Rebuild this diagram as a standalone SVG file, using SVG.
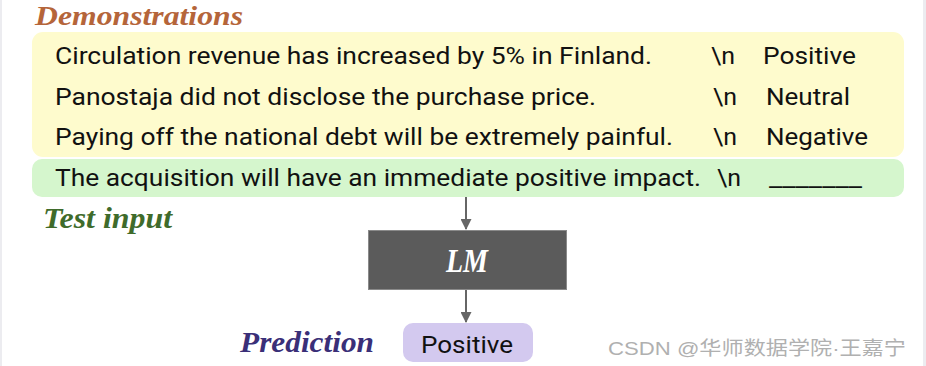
<svg xmlns="http://www.w3.org/2000/svg" width="926" height="366" viewBox="0 0 926 366">
<style>
.t{font-family:Roboto,"Liberation Sans",sans-serif;font-size:23.5px;fill:#111}
.h{font-family:"Liberation Serif","DejaVu Serif",serif;font-weight:bold;font-style:italic}
.wm{font-family:"Liberation Sans","Noto Sans CJK SC",sans-serif;font-size:19px;fill:#b0b0b0}
.conn{stroke:#666;stroke-width:2;fill:none}
</style>
<defs>
<marker id="ah" viewBox="0 0 10 10" refX="9" refY="5" markerWidth="6" markerHeight="5.5" orient="auto" markerUnits="strokeWidth">
<path d="M0,0 L10,5 L0,10 z" fill="#666"/>
</marker>
</defs>
<rect x="0" y="0" width="926" height="366" fill="#fff"/>
<rect x="0" y="0" width="2" height="366" fill="#ececf0"/>
<rect x="923" y="0" width="3" height="366" fill="#ececf0"/>

<g id="demonstrations">
<text class="h" x="35" y="25" font-size="27" fill="#b5653a" textLength="208" lengthAdjust="spacingAndGlyphs">Demonstrations</text>
<rect x="32" y="32" width="872" height="125" rx="11" fill="#fefbcd"/>
<text class="t" x="55" y="64" textLength="597" lengthAdjust="spacingAndGlyphs">Circulation revenue has increased by 5% in Finland.</text>
<text class="t" x="711" y="64" textLength="24" lengthAdjust="spacingAndGlyphs">\n</text>
<text class="t" x="763" y="64" textLength="93" lengthAdjust="spacingAndGlyphs">Positive</text>
<text class="t" x="55" y="105" textLength="541" lengthAdjust="spacingAndGlyphs">Panostaja did not disclose the purchase price.</text>
<text class="t" x="713" y="105" textLength="24" lengthAdjust="spacingAndGlyphs">\n</text>
<text class="t" x="766" y="105" textLength="84" lengthAdjust="spacingAndGlyphs">Neutral</text>
<text class="t" x="55" y="145" textLength="618" lengthAdjust="spacingAndGlyphs">Paying off the national debt will be extremely painful.</text>
<text class="t" x="713" y="145" textLength="24" lengthAdjust="spacingAndGlyphs">\n</text>
<text class="t" x="766" y="145" textLength="102" lengthAdjust="spacingAndGlyphs">Negative</text>
</g>

<g id="test-input">
<rect x="32" y="159" width="872" height="38" rx="10" fill="#d5f6cd"/>
<text class="t" x="55" y="186" textLength="646" lengthAdjust="spacingAndGlyphs">The acquisition will have an immediate positive impact.</text>
<text class="t" x="717" y="186" textLength="24" lengthAdjust="spacingAndGlyphs">\n</text>
<text class="t" x="769" y="186" textLength="93" lengthAdjust="spacingAndGlyphs">_______</text>
<text class="h" x="43" y="228" font-size="29" fill="#3f6b2b" textLength="129" lengthAdjust="spacingAndGlyphs">Test input</text>
</g>

<g id="lm">
<rect x="368.5" y="230.5" width="198" height="59" fill="#5b5b5b" stroke="#8a8a8a" stroke-width="1"/>
<text class="h" x="446" y="272" font-size="33" fill="#fff" textLength="42" lengthAdjust="spacingAndGlyphs">LM</text>
</g>

<g id="prediction">
<text class="h" x="240" y="352" font-size="30" fill="#3a2f78" textLength="134" lengthAdjust="spacingAndGlyphs">Prediction</text>
<rect x="403" y="323" width="130" height="39" rx="10" fill="#d3c9ef"/>
<text class="t" x="421" y="353" textLength="92" lengthAdjust="spacingAndGlyphs">Positive</text>
</g>

<g id="connectors">
<line class="conn" x1="466" y1="197" x2="466" y2="229" marker-end="url(#ah)"/>
<line class="conn" x1="466" y1="290" x2="466" y2="322" marker-end="url(#ah)"/>
</g>

<text class="wm" x="608" y="355" textLength="298" lengthAdjust="spacingAndGlyphs">CSDN @华师数据学院·王嘉宁</text>
</svg>
